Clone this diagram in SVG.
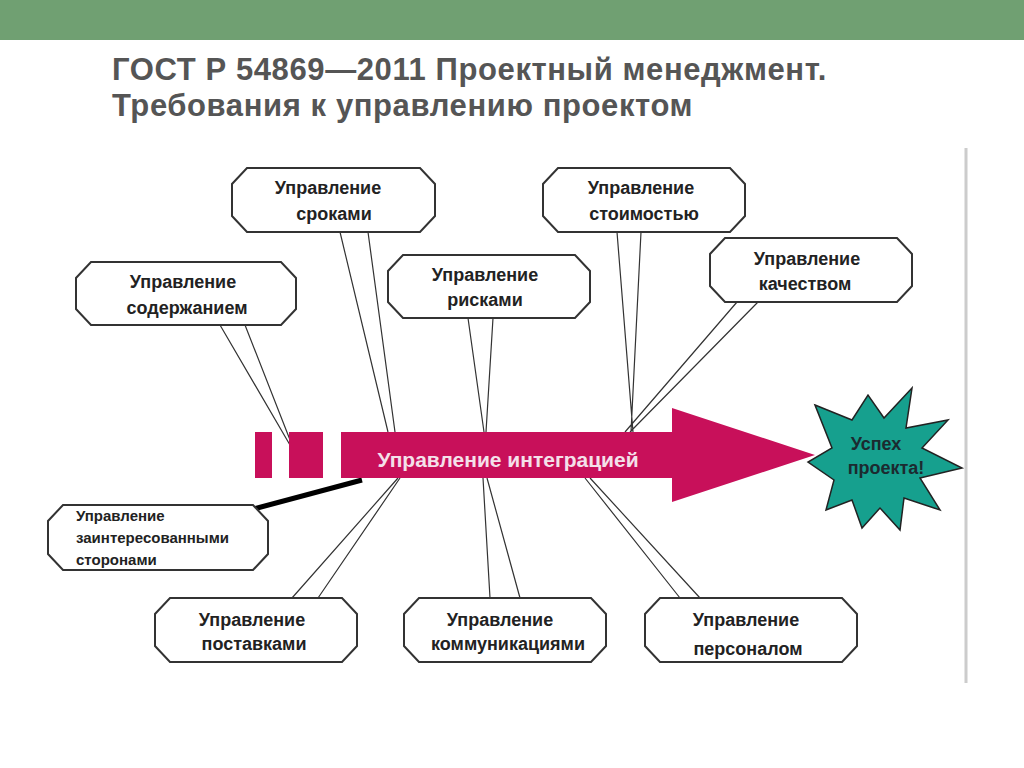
<svg xmlns="http://www.w3.org/2000/svg" width="1024" height="768" viewBox="0 0 1024 768">
<style>
.n{fill:#fff;stroke:#333;stroke-width:2}
.t{font-family:"Liberation Sans",Arial,sans-serif;font-weight:bold;font-size:18px;fill:#222;text-anchor:middle}
.c{stroke:#333;stroke-width:1.2;fill:none}
</style>
<rect width="1024" height="768" fill="#fff"/>
<rect width="1024" height="40" fill="#70a072"/>
<line x1="966" y1="148" x2="966" y2="683" stroke="#ccc" stroke-width="3"/>
<g font-family="Liberation Sans,Arial,sans-serif" font-weight="bold" font-size="31" fill="#555" letter-spacing="0.6">
<text x="112" y="80">ГОСТ Р 54869—2011 Проектный менеджмент.</text>
<text x="112" y="116">Требования к управлению проектом</text>
</g>
<g id="connectors">
<path class="c" d="M340 232L388 432M368 232L395 432M617 232L633 432M641 232L631 432M220 325L290 445M245 325L292 445M468 318L484 432M493 318L486 432M758 302L630 432M737 302L625 432M292 598L398 478M318 598L400 478M490 598L483 478M520 598L487 478M680 598L585 478M700 598L590 478"/>
<line x1="250" y1="510" x2="362" y2="480" stroke="#000" stroke-width="5"/>
</g>
<g id="arrow" fill="#c8105a">
<rect x="255" y="432" width="17" height="46"/>
<rect x="289" y="432" width="34" height="46"/>
<polygon points="341,432 672,432 672,408 815,455 672,502 672,478 341,478"/>
<text x="508" y="467" font-family="Liberation Sans,Arial,sans-serif" font-weight="bold" font-size="21" fill="#f4e0ea" text-anchor="middle">Управление интеграцией</text>
</g>
<g id="success">
<polygon fill="#16a08e" stroke="#222" stroke-width="1.5" points="815,405 852,420 868,395 884,418 912,388 906,428 948,420 922,448 962,468 920,478 940,510 904,498 900,530 880,508 862,528 852,500 826,510 834,480 808,462 832,448" />
<text x="876" y="450" font-family="Liberation Sans,Arial,sans-serif" font-size="18" font-weight="bold" fill="#1c2a30" text-anchor="middle">Успех</text>
<text x="886" y="474" font-family="Liberation Sans,Arial,sans-serif" font-size="18" font-weight="bold" fill="#1c2a30" text-anchor="middle">проекта!</text>
</g>
<g id="n1"><polygon class="n" points="247,168 420,168 435,184 435,216 420,232 247,232 232,216 232,184"/><text class="t" x="328" y="194">Управление</text><text class="t" x="334" y="220">сроками</text></g>
<g id="n2"><polygon class="n" points="558,168 730,168 745,184 745,216 730,232 558,232 543,216 543,184"/><text class="t" x="641" y="194">Управление</text><text class="t" x="644" y="220">стоимостью</text></g>
<g id="n3"><polygon class="n" points="91,262 281,262 296,278 296,309 281,325 91,325 76,309 76,278"/><text class="t" x="183" y="288">Управление</text><text class="t" x="187" y="314">содержанием</text></g>
<g id="n4"><polygon class="n" points="403,255 575,255 590,271 590,302 575,318 403,318 388,302 388,271"/><text class="t" x="485" y="281">Управление</text><text class="t" x="485" y="306">рисками</text></g>
<g id="n5"><polygon class="n" points="725,238 897,238 912,254 912,286 897,302 725,302 710,286 710,254"/><text class="t" x="807" y="265">Управление</text><text class="t" x="805" y="290">качеством</text></g>
<g id="n6"><polygon class="n" points="63,505 253,505 268,521 268,554 253,570 63,570 48,554 48,521"/>
<g font-family="Liberation Sans,Arial,sans-serif" font-weight="bold" font-size="15" fill="#222"><text x="76" y="521">Управление</text><text x="76" y="543">заинтересованными</text><text x="76" y="565">сторонами</text></g></g>
<g id="n7"><polygon class="n" points="170,598 342,598 357,614 357,646 342,662 170,662 155,646 155,614"/><text class="t" x="252" y="626">Управление</text><text class="t" x="254" y="650" fill="#000">поставками</text></g>
<g id="n8"><polygon class="n" points="419,598 591,598 606,614 606,646 591,662 419,662 404,646 404,614"/><text class="t" x="500" y="626">Управление</text><text class="t" x="508" y="650" font-size="17">коммуникациями</text></g>
<g id="n9"><polygon class="n" points="660,598 842,598 857,614 857,646 842,662 660,662 645,646 645,614"/><text class="t" x="746" y="626">Управление</text><text class="t" x="748" y="655" fill="#000">персоналом</text></g>
</svg>
